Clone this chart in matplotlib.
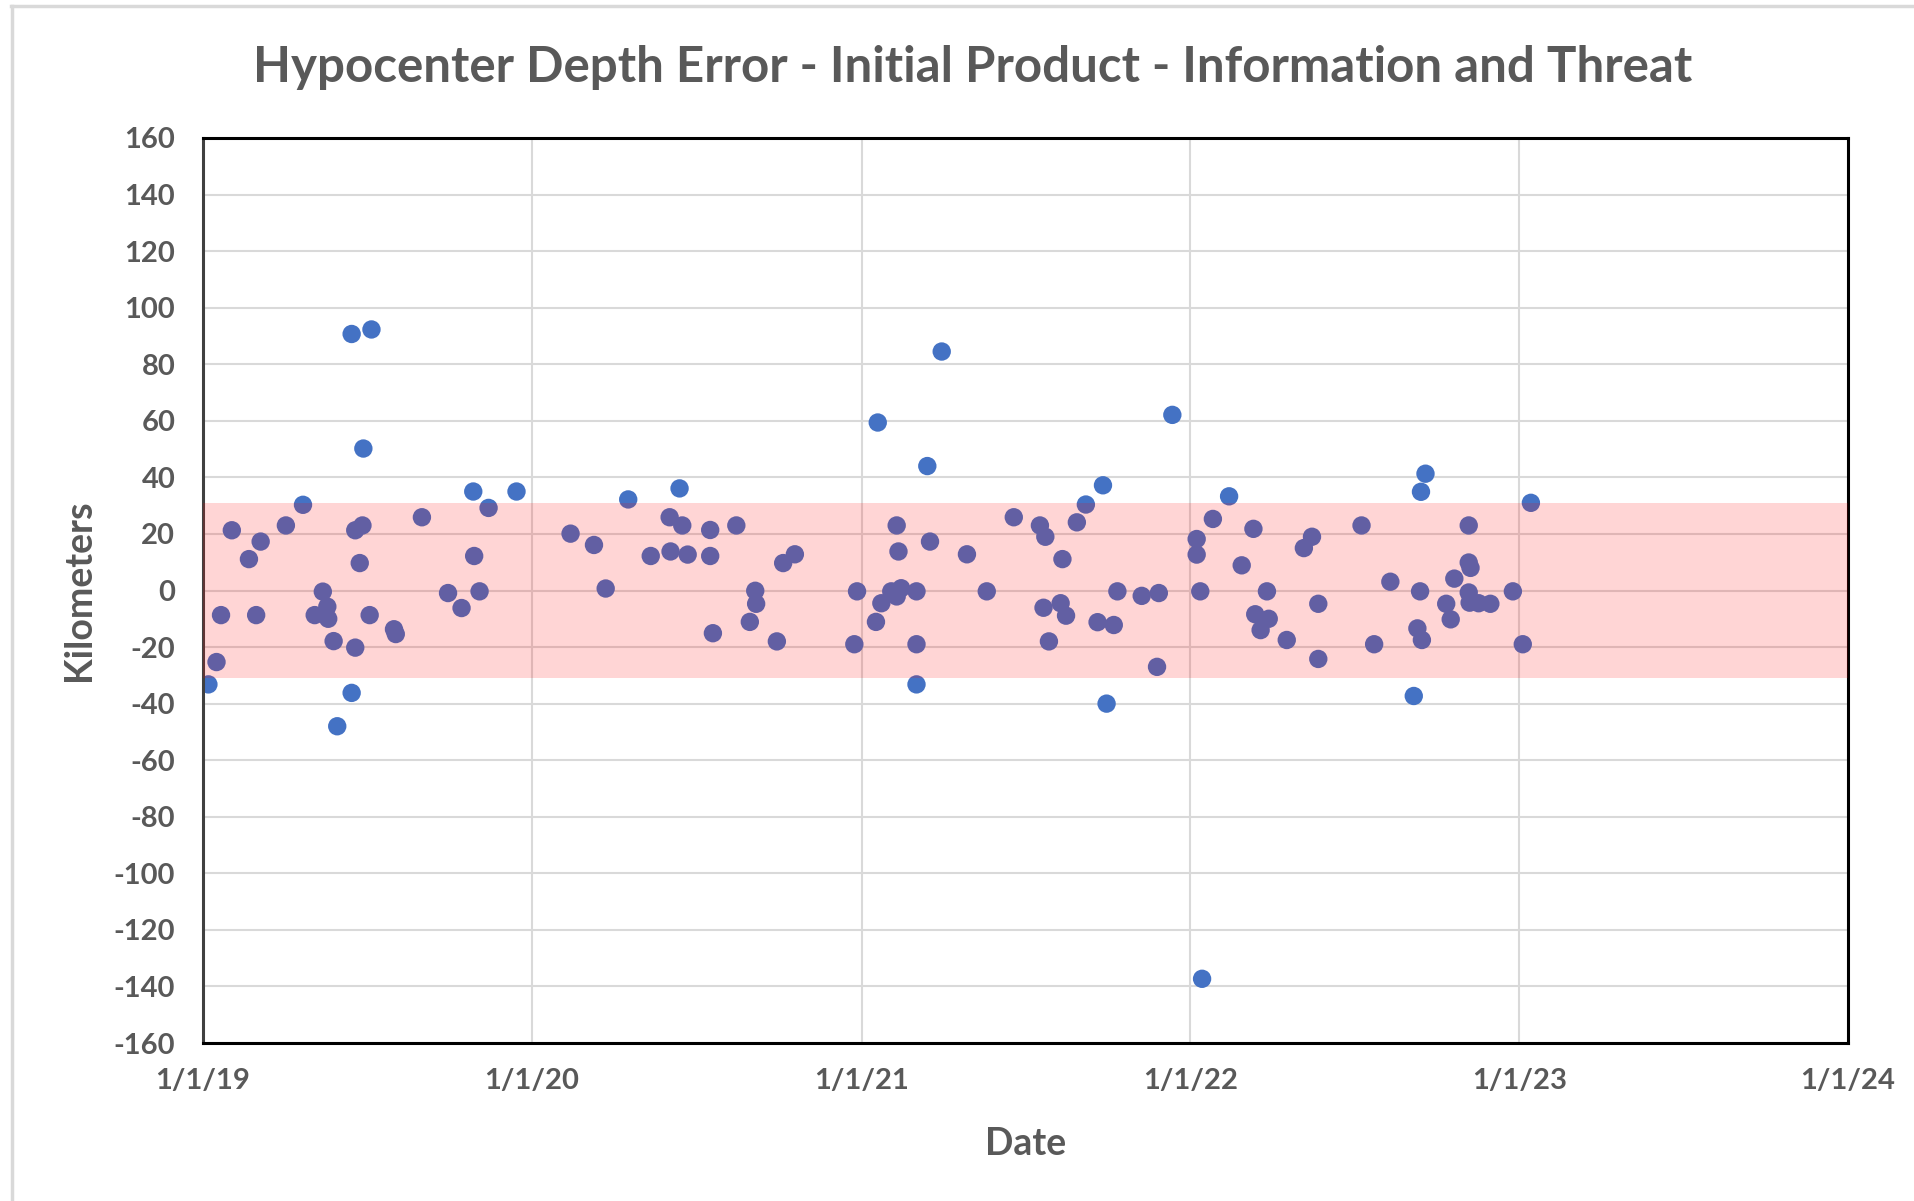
import matplotlib
matplotlib.use("Agg")
import matplotlib.pyplot as plt
import matplotlib.dates as mdates
from matplotlib.ticker import FuncFormatter, MultipleLocator
from matplotlib.lines import Line2D
import pandas as pd

# event dates and depth error (km)
dates = [
    "2019-01-07", "2019-01-16", "2019-01-21", "2019-02-02", "2019-02-21", "2019-03-01",
    "2019-03-06", "2019-04-03", "2019-04-22", "2019-05-05", "2019-05-14", "2019-05-19",
    "2019-05-20", "2019-05-26", "2019-05-30", "2019-06-15", "2019-06-15", "2019-06-19",
    "2019-06-19", "2019-06-24", "2019-06-27", "2019-06-28", "2019-07-05", "2019-07-07",
    "2019-08-01", "2019-08-03", "2019-09-01", "2019-09-30", "2019-10-15", "2019-10-28",
    "2019-10-29", "2019-11-04", "2019-11-14", "2019-12-15",
    "2020-02-13", "2020-03-10", "2020-03-23", "2020-04-17", "2020-05-12", "2020-06-02",
    "2020-06-03", "2020-06-13", "2020-06-16", "2020-06-22", "2020-07-17", "2020-07-17",
    "2020-07-20", "2020-08-15", "2020-08-30", "2020-09-05", "2020-09-06", "2020-09-29",
    "2020-10-06", "2020-10-19", "2020-12-24", "2020-12-27",
    "2021-01-17", "2021-01-19", "2021-01-23", "2021-02-03", "2021-02-09", "2021-02-09",
    "2021-02-11", "2021-02-14", "2021-03-03", "2021-03-03", "2021-03-03", "2021-03-15",
    "2021-03-18", "2021-03-31", "2021-04-28", "2021-05-20", "2021-06-19", "2021-07-18",
    "2021-07-22", "2021-07-24", "2021-07-28", "2021-08-10", "2021-08-12", "2021-08-16",
    "2021-08-28", "2021-09-07", "2021-09-20", "2021-09-26", "2021-09-30", "2021-10-08",
    "2021-10-12", "2021-11-08", "2021-11-25", "2021-11-27", "2021-12-12",
    "2022-01-08", "2022-01-08", "2022-01-12", "2022-01-14", "2022-01-26", "2022-02-13",
    "2022-02-27", "2022-03-12", "2022-03-14", "2022-03-20", "2022-03-27", "2022-03-29",
    "2022-04-18", "2022-05-07", "2022-05-16", "2022-05-23", "2022-05-23", "2022-07-10",
    "2022-07-24", "2022-08-11", "2022-09-06", "2022-09-10", "2022-09-13", "2022-09-14",
    "2022-09-15", "2022-09-19", "2022-10-12", "2022-10-17", "2022-10-21", "2022-11-06",
    "2022-11-06", "2022-11-06", "2022-11-07", "2022-11-08", "2022-11-17", "2022-11-30",
    "2022-12-25", "2023-01-05", "2023-01-14",
]
depth_err = [
    -33.2, -25.3, -8.7, 21.3, 11.1, -8.7,
    17.3, 23, 30.3, -8.7, -0.4, -5.7,
    -10, -17.9, -48, 90.7, -36.2, -20.2,
    21.3, 9.7, 23, 50.2, -8.7, 92.3,
    -13.7, -15.4, 25.9, -0.9, -6.2, 35,
    12.2, -0.3, 29.2, 35,
    20.1, 16.1, 0.7, 32.2, 12.2, 25.9,
    13.8, 36.1, 23, 12.7, 21.4, 12.2,
    -15.1, 23, -11.1, -0.1, -4.7, -18,
    9.7, 12.8, -19, -0.3,
    -11.1, 59.4, -4.5, -0.3, -2.1, 23,
    13.8, 0.8, -0.3, -19, -33.2, 44,
    17.3, 84.5, 12.8, -0.3, 25.9, 23,
    -6.1, 19, -18, -4.5, 11.1, -8.9,
    24.1, 30.4, -11.2, 37.2, -40, -12.2,
    -0.3, -1.9, -27, -0.9, 62.1,
    18.2, 12.7, -0.3, -137.3, 25.3, 33.3,
    8.9, 21.8, -8.4, -14, -0.3, -10,
    -17.5, 15, 19, -4.7, -24.2, 23,
    -19, 3.1, -37.3, -13.4, -0.3, 34.9,
    -17.5, 41.3, -4.7, -10.2, 4.2, 23,
    9.9, -0.7, -4.3, 8, -4.5, -4.7,
    -0.3, -19, 31,
]
band_limit = 31
x_start, x_end = "2019-01-01", "2024-01-01"
tick_years = [2019, 2020, 2021, 2022, 2023, 2024]

gray = "#595959"
font = "Lato"
plt.rcParams["axes.unicode_minus"] = False

W, H = 1915, 1201
fig = plt.figure(figsize=(W / 100, H / 100), dpi=100)
ax = fig.add_axes([203 / W, 1 - 1043 / H, (1848 - 203) / W, (1043 - 138) / H])

x = pd.to_datetime(dates)
ax.scatter(x, depth_err, s=175, color="#4472C4", edgecolors="none", zorder=2)
ax.axhspan(-band_limit, band_limit, color="red", alpha=0.165, lw=0, zorder=3)

ax.set_xlim(pd.Timestamp(x_start), pd.Timestamp(x_end))
ax.set_ylim(-160, 160)
ax.yaxis.set_major_locator(MultipleLocator(20))
ax.set_xticks([pd.Timestamp(f"{y}-01-01") for y in tick_years])
ax.xaxis.set_major_formatter(FuncFormatter(
    lambda v, p: "{d.month}/{d.day}/{d:%y}".format(d=mdates.num2date(v))))

ax.set_axisbelow(True)
ax.grid(True, color="#D9D9D9", lw=1.5)
for s in ax.spines.values():
    s.set_color("black")
    s.set_linewidth(2.2)
ax.spines["left"].set_color("#404040")
ax.tick_params(length=0, labelcolor=gray, labelsize=21)
ax.tick_params(axis="y", pad=20)
ax.tick_params(axis="x", pad=18)
for lab in ax.get_xticklabels() + ax.get_yticklabels():
    lab.set_fontweight("bold")
    lab.set_fontfamily(font)

ax.set_xlabel("Date", fontsize=27, fontweight="bold", color=gray, family=font, labelpad=24)
ax.set_ylabel("Kilometers", fontsize=27, fontweight="bold", color=gray, family=font, labelpad=13)
fig.text(973 / W, 1 - 67 / H, "Hypocenter Depth Error - Initial Product - Information and Threat",
         ha="center", va="center", fontsize=35.5, fontweight="bold", color=gray, family=font)

# light chart-area border (top and left edges only)
fig.add_artist(Line2D([11 / W, 1], [1 - 5.5 / H] * 2, transform=fig.transFigure, color="#D9D9D9", lw=2.5))
fig.add_artist(Line2D([12 / W] * 2, [0, 1 - 5.5 / H], transform=fig.transFigure, color="#D9D9D9", lw=2.5))

fig.savefig("out.png", dpi=100)
